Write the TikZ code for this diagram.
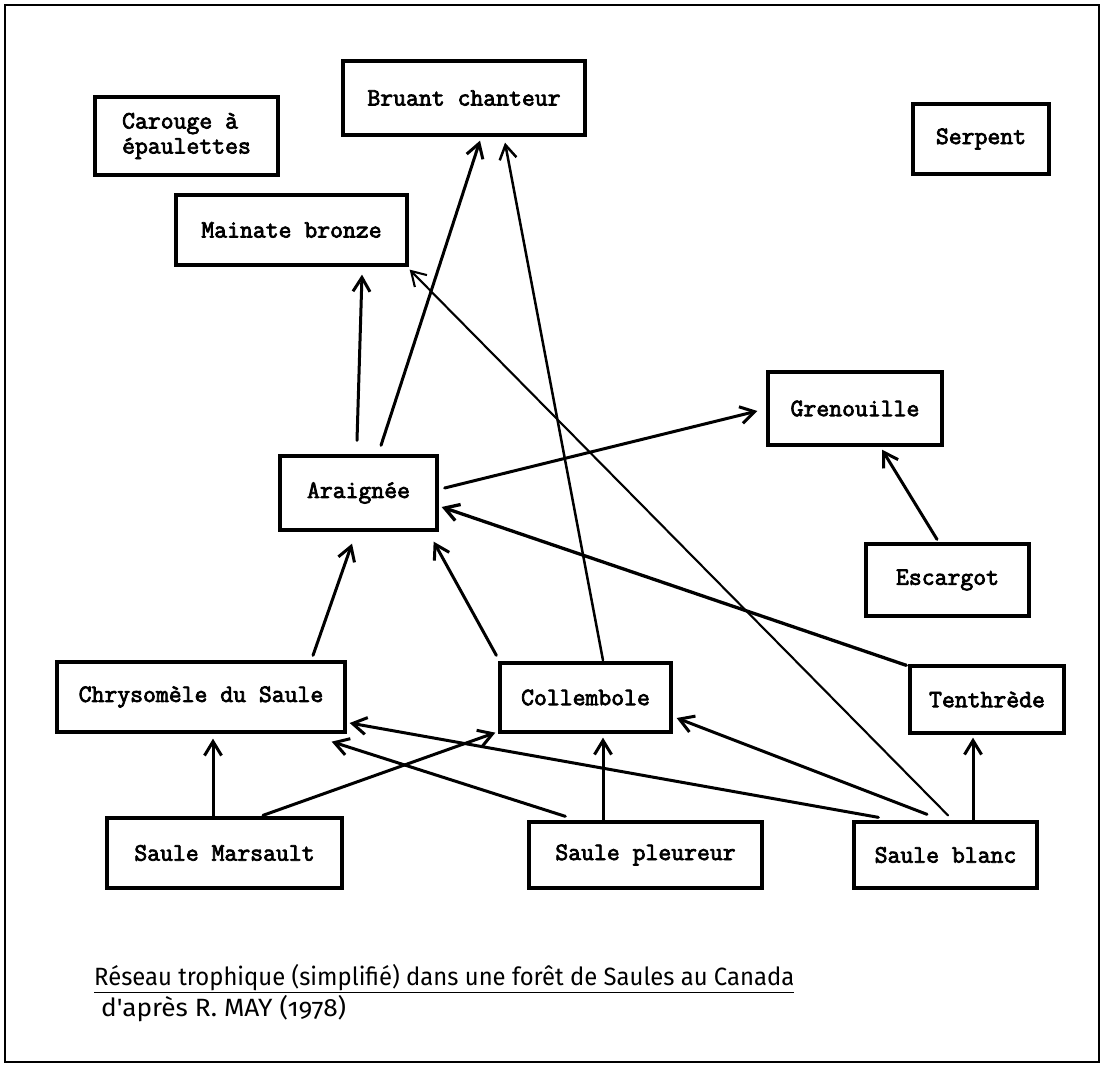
\documentclass[tikz,border=0pt]{standalone}
\usepackage{fontspec}
\usepackage{graphicx}
\usetikzlibrary{arrows.meta,calc}
\newfontfamily\capfont[Numbers=OldStyle]{Fira Sans}
\newfontfamily\boxfont[FakeBold=3]{Latin Modern Mono}
\begin{document}
\begin{tikzpicture}[x=1pt,y=-1pt,
  box/.style={draw, line width=3.3pt, inner sep=0pt, align=center,
    font=\boxfont\fontsize{25}{25}\selectfont},
  feeds/.style={line width=3pt, line cap=round,
    -{Straight Barb[length=14pt,width=17pt]}},
  thinfeeds/.style={feeds, line width=2.1pt},
  caption/.style={anchor=base west, inner sep=0pt,
    font=\capfont\fontsize{25}{25}\selectfont}]

% page and outer frame
\useasboundingbox (0,0) rectangle (1107,1067);
\draw[line width=2.2pt] (5,5) rectangle (1099,1062);

% species boxes
\node[box, minimum width=242pt, minimum height=74pt] (bruant)     at (464,98)    {Bruant chanteur};
\node[box, minimum width=183pt, minimum height=78pt, align=left] (carouge) at (186.5,136) {Carouge à\\épaulettes};
\node[box, minimum width=136pt, minimum height=70pt] (serpent)    at (981,139)   {Serpent};
\node[box, minimum width=231pt, minimum height=70pt] (mainate)    at (291.5,230) {Mainate bronze};
\node[box, minimum width=157pt, minimum height=74pt] (araignee)   at (358.5,493) {Araignée};
\node[box, minimum width=174pt, minimum height=73pt] (grenouille) at (855,408.5) {Grenouille};
\node[box, minimum width=163pt, minimum height=72pt] (escargot)   at (947.5,580) {Escargot};
\node[box, minimum width=288pt, minimum height=70pt] (chrysomele) at (201,697)   {Chrysomèle du Saule};
\node[box, minimum width=171pt, minimum height=69pt] (collembole) at (585.5,697.5) {Collembole};
\node[box, minimum width=154pt, minimum height=67pt] (tenthrede)  at (987,699.5) {Tenthrède};
\node[box, minimum width=235pt, minimum height=70pt] (marsault)   at (224.5,853) {Saule Marsault};
\node[box, minimum width=233pt, minimum height=66pt] (pleureur)   at (645.5,855) {Saule pleureur};
\node[box, minimum width=183pt, minimum height=66pt] (blanc)      at (945.5,855) {Saule blanc};

% feeding links (prey -> predator)
\draw[feeds]     ($(araignee.north)+(-1.5,-14)$)    -- ($(mainate.south)+(70.5,8)$);
\draw[feeds]     ($(araignee.north)+(22.5,-9)$)     -- ($(bruant.south)+(16,4)$);
\draw[feeds, line width=2.5pt] ($(collembole.north)+(17.5,-1)$) -- ($(bruant.south)+(41,6)$);
\draw[thinfeeds] ($(blanc.north)+(2.5,-5)$)         -- ($(mainate.south east)+(1,3)$);
\draw[feeds]     ($(araignee.east)+(6,-5)$)         -- ($(grenouille.west)+(-9,2.5)$);
\draw[feeds]     ($(escargot.north)+(-10.5,-3)$)    -- ($(grenouille.south)+(27,3)$);
\draw[feeds, line width=3.3pt] ($(tenthrede.north west)+(-2,1)$) -- ($(araignee.east)+(3,14)$);
\draw[feeds]     ($(chrysomele.north)+(112,-5)$)    -- ($(araignee.south)+(-6.5,12)$);
\draw[feeds]     ($(collembole.north west)+(-2,-6)$) -- ($(araignee.south east)+(-5,10)$);
\draw[feeds]     ($(marsault.north)+(-11.5,0)$)     -- ($(chrysomele.south)+(12,5)$);
\draw[feeds]     ($(marsault.north)+(38.5,-1)$)     -- ($(collembole.south west)+(-3,-1)$);
\draw[feeds]     ($(pleureur.north west)+(38,-4)$)  -- ($(chrysomele.south east)+(-15,8)$);
\draw[feeds]     ($(blanc.north west)+(26,-3)$)     -- ($(chrysomele.east)+(3,26)$);
\draw[feeds]     ($(pleureur.north)+(-42.5,0)$)     -- ($(collembole.south)+(17.5,4)$);
\draw[feeds]     ($(blanc.north)+(-18.5,-6)$)       -- ($(collembole.east)+(4,20.5)$);
\draw[feeds]     ($(blanc.north)+(27.5,0)$)         -- ($(tenthrede.south)+(-14,3)$);

% caption
\node[caption] (titre) at (94,985)
  {\resizebox{700pt}{\height}{Réseau trophique (simplifié) dans une forêt de Saules au Canada}};
\draw[line width=1.5pt] ($(titre.south west)+(0,2)$) -- ($(titre.south east)+(0,2)$);
\node[caption] (source) at (101,1016)
  {\resizebox{245pt}{\height}{d'après R. MAY (1978)}};
\end{tikzpicture}
\end{document}
